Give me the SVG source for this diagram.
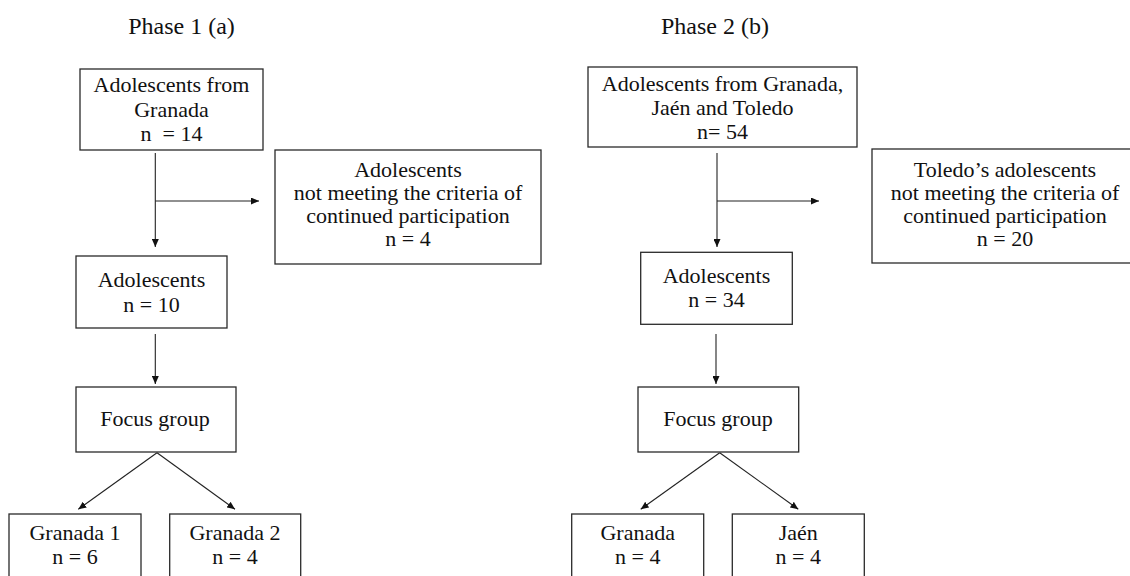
<svg xmlns="http://www.w3.org/2000/svg" width="1130" height="576" viewBox="0 0 1130 576">
  <style>
    .box { fill: #ffffff; stroke: #2a2a2a; stroke-width: 1.3; }
    .t { font-family: "Liberation Serif", "Times New Roman", serif; font-size: 22px; fill: #111111; text-anchor: middle; }
    .title { font-family: "Liberation Serif", "Times New Roman", serif; font-size: 24px; fill: #111111; text-anchor: middle; }
    .c { fill: none; stroke: #222222; stroke-width: 1.1; }
  </style>
  <defs>
    <marker id="ah" markerUnits="userSpaceOnUse" markerWidth="8" markerHeight="7" refX="8" refY="3.5" orient="auto">
      <path d="M0,0 L8,3.5 L0,7 z" fill="#111111"/>
    </marker>
  </defs>
  <rect width="1130" height="576" fill="#ffffff"/>

  <text class="title" x="181.5" y="34">Phase 1 (a)</text>
  <text class="title" x="715" y="34">Phase 2 (b)</text>

  <g id="connectors">
    <!-- Phase 1 -->
    <line class="c" x1="155.3" y1="153" x2="155.3" y2="247" marker-end="url(#ah)"/>
    <line class="c" x1="155.3" y1="201" x2="259" y2="201" marker-end="url(#ah)"/>
    <line class="c" x1="155.3" y1="334" x2="155.3" y2="384" marker-end="url(#ah)"/>
    <line class="c" x1="157" y1="452.7" x2="78.3" y2="509.3" marker-end="url(#ah)"/>
    <line class="c" x1="157" y1="452.7" x2="235" y2="509.3" marker-end="url(#ah)"/>
    <!-- Phase 2 -->
    <line class="c" x1="717" y1="153" x2="717" y2="247" marker-end="url(#ah)"/>
    <line class="c" x1="717" y1="201" x2="819" y2="201" marker-end="url(#ah)"/>
    <line class="c" x1="716" y1="334" x2="716" y2="384" marker-end="url(#ah)"/>
    <line class="c" x1="719.7" y1="452.7" x2="640.7" y2="509.3" marker-end="url(#ah)"/>
    <line class="c" x1="719.7" y1="452.7" x2="798.3" y2="509.3" marker-end="url(#ah)"/>
  </g>

  <g id="p1-start">
    <rect class="box" x="80" y="69" width="183" height="81"/>
    <text class="t" x="171.5" y="92">Adolescents from</text>
    <text class="t" x="171.5" y="116.5">Granada</text>
    <text class="t" x="171.5" y="141">n&#160; = 14</text>
  </g>
  <g id="p1-excluded">
    <rect class="box" x="275" y="150" width="266" height="114"/>
    <text class="t" x="408" y="177">Adolescents</text>
    <text class="t" x="408" y="200">not meeting the criteria of</text>
    <text class="t" x="408" y="223">continued participation</text>
    <text class="t" x="408" y="246">n = 4</text>
  </g>
  <g id="p1-adolescents">
    <rect class="box" x="76" y="256" width="151" height="72"/>
    <text class="t" x="151.5" y="287">Adolescents</text>
    <text class="t" x="151.5" y="311.5">n = 10</text>
  </g>
  <g id="p1-focus">
    <rect class="box" x="76" y="387" width="160" height="65"/>
    <text class="t" x="155" y="426">Focus group</text>
  </g>
  <g id="p1-granada1">
    <rect class="box" x="9" y="514" width="132" height="90"/>
    <text class="t" x="75" y="540">Granada 1</text>
    <text class="t" x="75" y="563.5">n = 6</text>
  </g>
  <g id="p1-granada2">
    <rect class="box" x="169.7" y="514" width="131" height="90"/>
    <text class="t" x="235" y="540">Granada 2</text>
    <text class="t" x="235" y="563.5">n = 4</text>
  </g>

  <g id="p2-start">
    <rect class="box" x="588" y="67" width="269" height="80"/>
    <text class="t" x="722.5" y="91">Adolescents from Granada,</text>
    <text class="t" x="722.5" y="115">Jaén and Toledo</text>
    <text class="t" x="722.5" y="138.5">n= 54</text>
  </g>
  <g id="p2-excluded">
    <rect class="box" x="872" y="149" width="266" height="114"/>
    <text class="t" x="1005" y="176.5">Toledo’s adolescents</text>
    <text class="t" x="1005" y="199.5">not meeting the criteria of</text>
    <text class="t" x="1005" y="222.5">continued participation</text>
    <text class="t" x="1005" y="245.5">n = 20</text>
  </g>
  <g id="p2-adolescents">
    <rect class="box" x="640.7" y="252.3" width="151.6" height="72"/>
    <text class="t" x="716.5" y="283">Adolescents</text>
    <text class="t" x="716.5" y="307">n = 34</text>
  </g>
  <g id="p2-focus">
    <rect class="box" x="638" y="387" width="160.7" height="65"/>
    <text class="t" x="718" y="426">Focus group</text>
  </g>
  <g id="p2-granada">
    <rect class="box" x="571.7" y="514" width="132" height="90"/>
    <text class="t" x="637.7" y="540">Granada</text>
    <text class="t" x="637.7" y="563.5">n = 4</text>
  </g>
  <g id="p2-jaen">
    <rect class="box" x="732.3" y="514" width="132" height="90"/>
    <text class="t" x="798.3" y="540">Jaén</text>
    <text class="t" x="798.3" y="563.5">n = 4</text>
  </g>
</svg>
